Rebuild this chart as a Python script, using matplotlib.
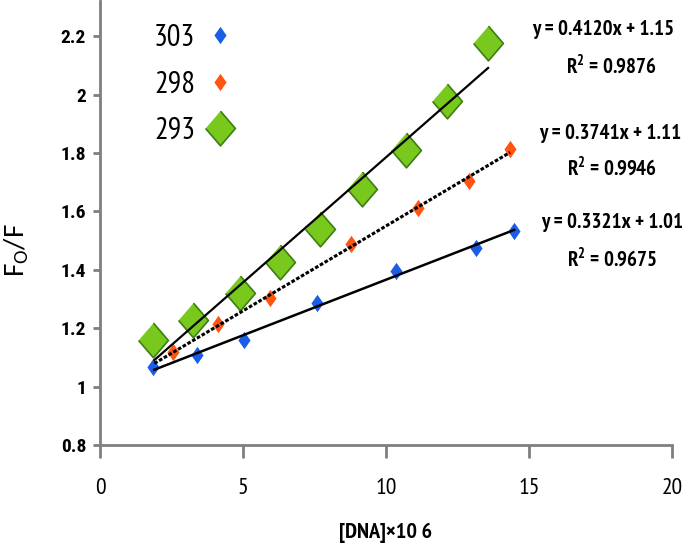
import numpy as np
import matplotlib
matplotlib.use("Agg")
import matplotlib.pyplot as plt

plt.rcParams['font.family'] = ['PT Sans Narrow', 'Carlito', 'DejaVu Sans']

# temperatures (K)
labels = ["303", "298", "293"]

# [DNA] x 10^6 and F0/F
x_303 = [1.85, 3.39, 5.03, 7.59, 10.35, 13.15, 14.48]
y_303 = [1.066, 1.107, 1.158, 1.285, 1.397, 1.476, 1.534]

x_298 = [2.55, 4.13, 5.94, 8.78, 11.12, 12.90, 14.34]
y_298 = [1.117, 1.216, 1.302, 1.489, 1.612, 1.704, 1.814]

x_293 = [1.85, 3.25, 4.90, 6.29, 7.69, 9.16, 10.70, 12.13, 13.57]
y_293 = [1.158, 1.227, 1.322, 1.425, 1.541, 1.677, 1.810, 1.977, 2.175]

equations = ["y = 0.4120x + 1.15", "y = 0.3741x + 1.11", "y = 0.3321x + 1.01"]
r2_values = ["R$^\\mathregular{2}$ = 0.9876", "R$^\\mathregular{2}$ = 0.9946", "R$^\\mathregular{2}$ = 0.9675"]

small_diamond = [(0, 1), (0.7, 0), (0, -1), (-0.7, 0)]
big_diamond = [(0, 1), (0.86, 0), (0, -1), (-0.86, 0)]

fig = plt.figure(figsize=(6.85, 5.45), dpi=100)
ax = fig.add_axes([0.146, 0.1835, 0.835, 0.8145])

# trend lines
for xs, ys, ls, lw in [(x_293, y_293, '-', 1.6), (x_298, y_298, (0, (1.2, 0.6)), 2.2), (x_303, y_303, '-', 1.8)]:
    k, b = np.polyfit(xs, ys, 1)
    xx = np.array([1.9, max(xs)])
    ax.plot(xx, k * xx + b, color='black', linestyle=ls, linewidth=lw, zorder=3)

ax.plot(x_303, y_303, linestyle='none', marker=small_diamond, markersize=12.5,
        color='#1a5ee8', markeredgewidth=0, label=labels[0], zorder=2)
ax.plot(x_298, y_298, linestyle='none', marker=small_diamond, markersize=12.5,
        color='#ff5510', markeredgewidth=0, label=labels[1], zorder=2)
ax.plot(x_293, y_293, linestyle='none', marker=big_diamond, markersize=25,
        color='#78c81e', markeredgecolor='#3f7d12', markeredgewidth=1.2,
        label=labels[2], zorder=2)

ax.set_xlim(0, 20)
ax.set_ylim(0.8, 2.32)
ax.set_xticks([0, 5, 10, 15, 20])
ax.set_yticks([0.8, 1, 1.2, 1.4, 1.6, 1.8, 2, 2.2])
ax.set_yticklabels(["0.8", "1", "1.2", "1.4", "1.6", "1.8", "2", "2.2"], fontweight='bold',
                   family=['Roboto Condensed', 'DejaVu Sans'])

for s in ['top', 'right']:
    ax.spines[s].set_visible(False)
for s in ['left', 'bottom']:
    ax.spines[s].set_color('#7f7f7f')
    ax.spines[s].set_linewidth(2)
ax.tick_params(axis='y', length=5, width=2, color='#7f7f7f', labelsize=14, pad=5)
ax.tick_params(axis='x', length=9, width=2, color='#7f7f7f', labelsize=17, pad=15)

ax.set_xlabel("[DNA]×10 6", fontsize=16, fontweight='bold', labelpad=17)
ax.set_ylabel("F$_\\mathregular{O}$/F", fontsize=21, family=['Carlito', 'DejaVu Sans'])
ax.yaxis.set_label_coords(-0.12, 0.44)

leg = ax.legend(loc='upper left', bbox_to_anchor=(0.046, 1.01), frameon=False,
                markerfirst=False, fontsize=22, labelspacing=0.6, handletextpad=0.4,
                handlelength=0.8)

eq_x = [17.59, 17.83, 17.9]
eq_y = [2.222, 1.867, 1.562]
r2_x = [17.9, 17.9, 17.9]
r2_y = [2.099, 1.750, 1.439]
for i in range(3):
    ax.text(eq_x[i], eq_y[i], equations[i], ha='center', va='center', fontsize=15,
            fontweight='bold', clip_on=False)
    ax.text(r2_x[i], r2_y[i], r2_values[i], ha='center', va='center', fontsize=15,
            fontweight='bold', clip_on=False)

fig.savefig("out.png", dpi=100)
